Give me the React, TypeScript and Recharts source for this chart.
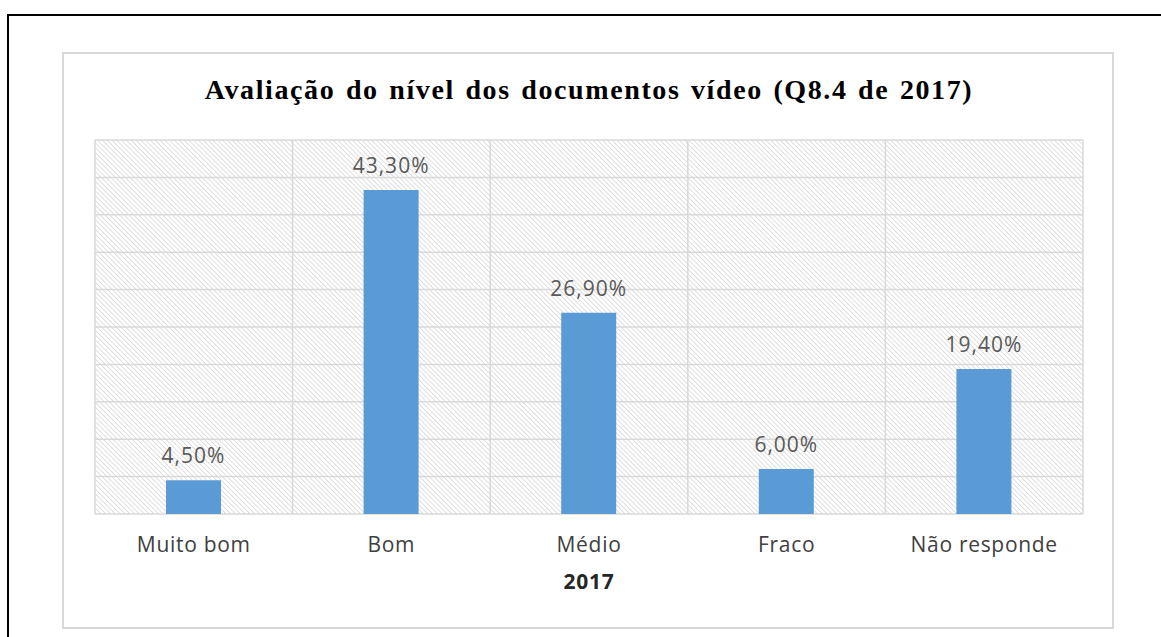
import React from 'react';
import { BarChart, Bar, XAxis, YAxis, CartesianGrid, LabelList, Label } from 'recharts';

const categories = ['Muito bom', 'Bom', 'Médio', 'Fraco', 'Não responde'];
const percentages = [4.5, 43.3, 26.9, 6.0, 19.4];
const yTicks = [0, 5, 10, 15, 20, 25, 30, 35, 40, 45, 50];

const chartData = categories.map((name, i) => ({ name, value: percentages[i] }));

const SANS = '"Open Sans", "Noto Sans", sans-serif';

const formatPct = (v: number) => `${v.toFixed(2).replace('.', ',')}%`;

function CategoryTick(props: any) {
  const { x, y, payload } = props;
  return (
    <text
      x={x}
      y={y + 38}
      textAnchor="middle"
      fontFamily={SANS}
      fontSize={21}
      letterSpacing={0.7}
      fill="#404040"
    >
      {payload.value}
    </text>
  );
}

export default function App() {
  return (
    <div
      style={{
        position: 'absolute',
        left: 0,
        top: 0,
        width: 1161,
        height: 637,
        background: '#fff',
        overflow: 'hidden',
      }}
    >
      {/* page frame, only top and left edges visible */}
      <div
        style={{
          position: 'absolute',
          left: 7,
          top: 14,
          width: 1200,
          height: 700,
          border: '2px solid #000',
          boxSizing: 'border-box',
        }}
      />
      {/* chart area box */}
      <div
        style={{
          position: 'absolute',
          left: 62,
          top: 52,
          width: 1052,
          height: 577,
          border: '2px solid #d9d9d9',
          boxSizing: 'border-box',
        }}
      />
      <svg
        width={1161}
        height={120}
        style={{ position: 'absolute', left: 0, top: 0 }}
      >
        <text
          x={589}
          y={99}
          textAnchor="middle"
          fontFamily='"Liberation Serif", "Times New Roman", serif'
          fontWeight="bold"
          fontSize={28}
          letterSpacing={1.6}
          wordSpacing={2}
          fill="#000"
        >
          Avaliação do nível dos documentos vídeo (Q8.4 de 2017)
        </text>
      </svg>
      <div style={{ position: 'absolute', left: 0, top: 0 }}>
        <BarChart
          width={1161}
          height={637}
          data={chartData}
          margin={{ top: 140, right: 78, left: 95, bottom: 43 }}
          barSize={55}
        >
          <defs>
            <pattern
              id="hatch"
              patternUnits="userSpaceOnUse"
              width={3.4}
              height={3.4}
              patternTransform="rotate(-45)"
            >
              <rect width={3.4} height={3.4} fill="#ffffff" />
              <line x1={0} y1={0} x2={0} y2={3.4} stroke="#cfcfcf" strokeWidth={1.3} />
            </pattern>
          </defs>
          <CartesianGrid
            fill="url(#hatch)"
            fillOpacity={1}
            stroke="#d9d9d9"
            strokeWidth={1.5}
            verticalCoordinatesGenerator={({ offset }: any) =>
              categories.map((_, i) => offset.left + (i * offset.width) / categories.length).concat(offset.left + offset.width)
            }
          />
          <YAxis hide domain={[0, 50]} ticks={yTicks} />
          <XAxis
            dataKey="name"
            axisLine={false}
            tickLine={false}
            tickSize={0}
            tickMargin={0}
            height={80}
            interval={0}
            tick={<CategoryTick />}
          >
            <Label
              value="2017"
              position="insideBottom"
              offset={5}
              fontFamily={SANS}
              fontWeight="bold"
              fontSize={21}
              letterSpacing={0.8}
              fill="#262626"
            />
          </XAxis>
          <Bar dataKey="value" fill="#5b9bd5" isAnimationActive={false}>
            <LabelList
              dataKey="value"
              position="top"
              offset={17}
              formatter={(v: any) => formatPct(Number(v))}
              fontFamily={SANS}
              fontSize={21}
              letterSpacing={1}
              fill="#595959"
            />
          </Bar>
        </BarChart>
      </div>
    </div>
  );
}
